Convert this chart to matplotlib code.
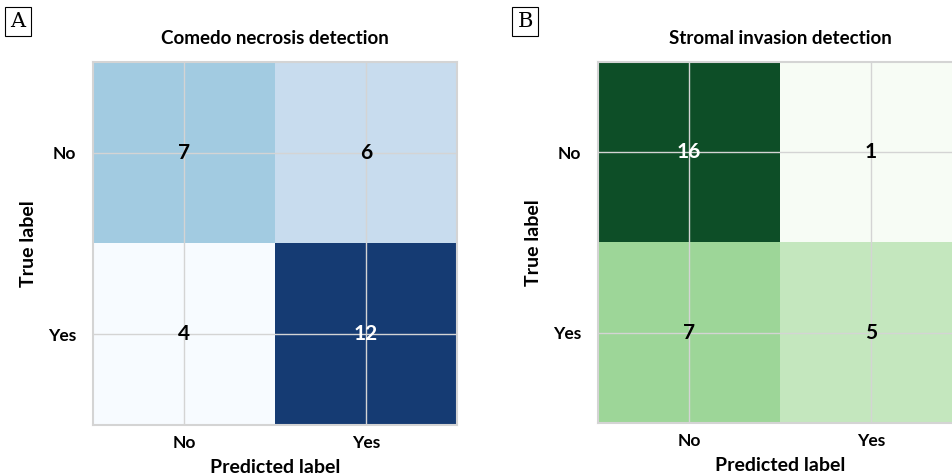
import numpy as np
import matplotlib.pyplot as plt
from matplotlib.colors import Normalize

# ----------------------------
# Data
# ----------------------------

class_labels = ["No", "Yes"]

comedo_title = "Comedo necrosis detection"
comedo_matrix = np.array([[7, 6],
                          [4, 12]])

stromal_title = "Stromal invasion detection"
stromal_matrix = np.array([[16, 1],
                           [7, 5]])

panel_letters = ["A", "B"]

# ----------------------------
# Plot
# ----------------------------

plt.rcParams['font.family'] = ['Lato', 'DejaVu Sans']

fig = plt.figure(figsize=(9.53, 4.76), dpi=100)

panels = [
    (comedo_matrix, comedo_title, "Blues", [0.0976, 0.107, 0.382, 0.763], 0.011),
    (stromal_matrix, stromal_title, "Greens", [0.6275, 0.111, 0.382, 0.759], 0.543),
]

for (matrix, title, cmap, rect, letter_x), letter in zip(panels, panel_letters):
    ax = fig.add_axes(rect)
    norm = Normalize(vmin=matrix.min(), vmax=matrix.max())
    ax.imshow(matrix, cmap=cmap, norm=norm, aspect="auto", alpha=0.95)

    thresh = (matrix.max() + matrix.min()) / 2
    for i in range(matrix.shape[0]):
        for j in range(matrix.shape[1]):
            color = "white" if matrix[i, j] > thresh else "black"
            ax.text(j, i, str(matrix[i, j]), ha="center", va="center",
                    fontsize=15, fontweight="bold", color=color)

    ax.set_xticks(range(len(class_labels)))
    ax.set_yticks(range(len(class_labels)))
    ax.set_xticklabels(class_labels, fontsize=12.5, fontweight="bold")
    ax.set_yticklabels(class_labels, fontsize=12.5, fontweight="bold")
    ax.tick_params(axis="x", length=0, pad=7)
    ax.tick_params(axis="y", length=0, pad=12)

    ax.grid(True, color="#d4d4d4", linewidth=1)
    for s in ax.spines.values():
        s.set_color("#d4d4d4")
        s.set_linewidth(1.5)

    ax.set_title(title, fontsize=13.5, fontweight="bold", pad=13)
    ax.set_xlabel("Predicted label", fontsize=14, fontweight="bold", labelpad=6)
    ax.set_ylabel("True label", fontsize=14, fontweight="bold", labelpad=8)

    fig.text(letter_x, 0.975, letter, fontsize=15, family="DejaVu Serif",
             ha="left", va="top",
             bbox=dict(boxstyle="square,pad=0.25", facecolor="white",
                       edgecolor="black", linewidth=0.8))

plt.savefig("out.png", dpi=100)
